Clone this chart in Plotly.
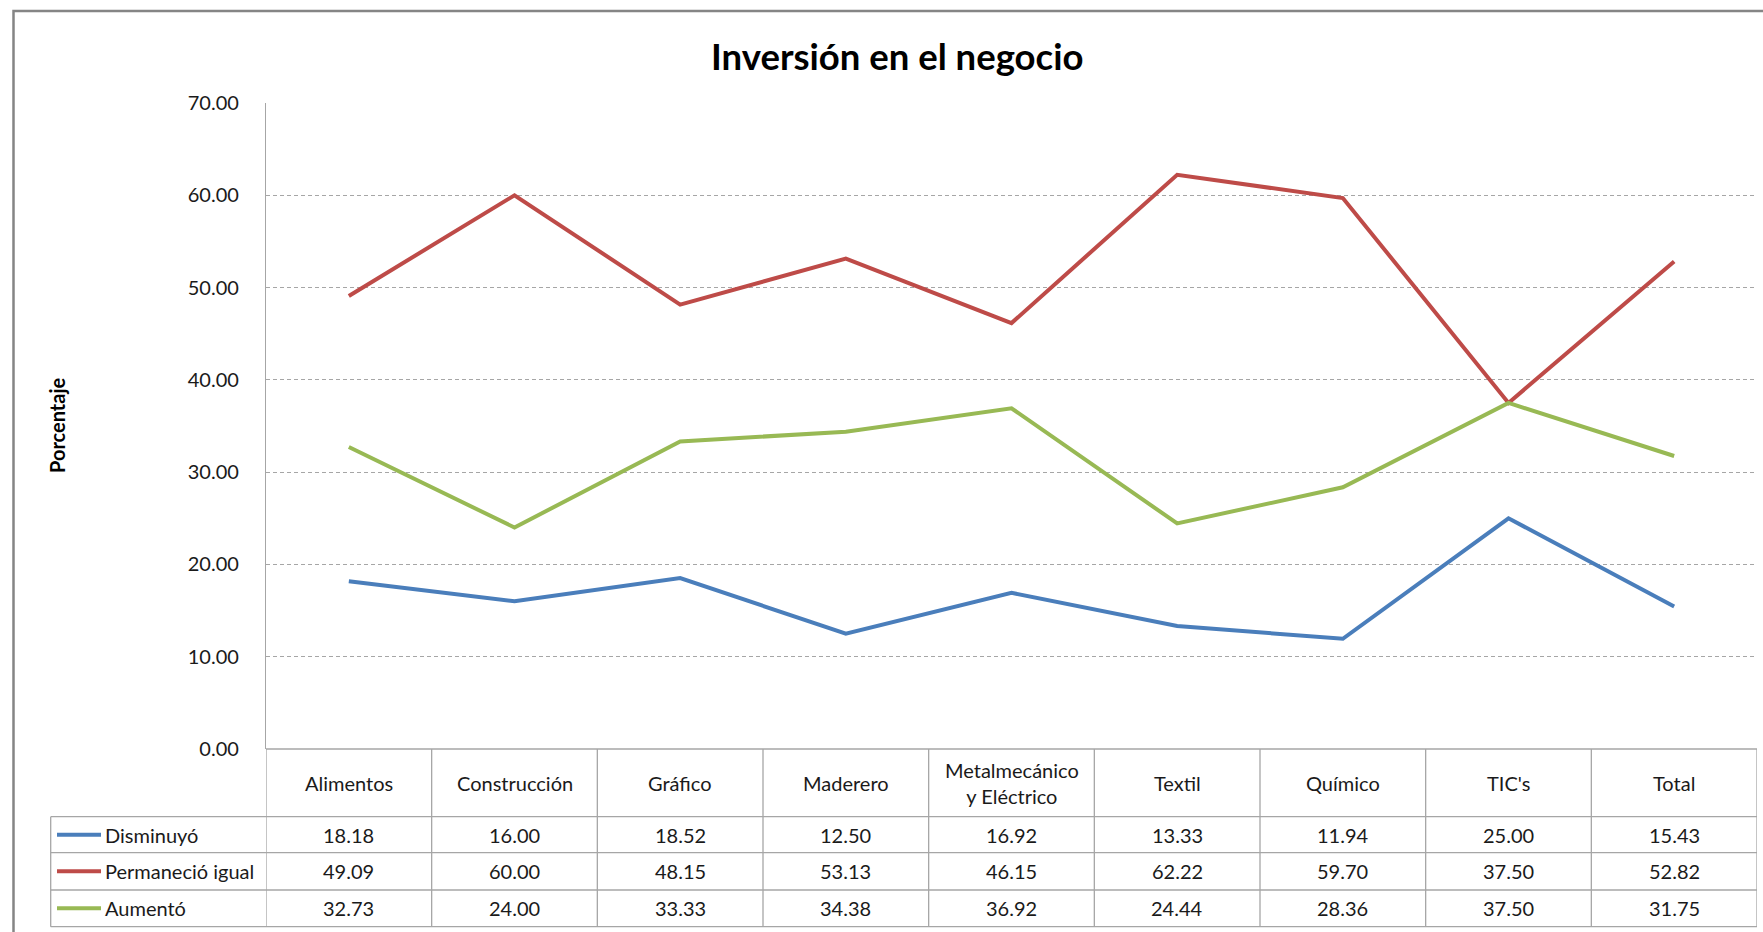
import plotly.graph_objects as go

categories = ["Alimentos", "Construcción", "Gráfico", "Maderero", "Metalmecánico<br>y Eléctrico",
              "Textil", "Químico", "TIC's", "Total"]
series_names = ["Disminuyó", "Permaneció igual", "Aumentó"]
disminuyo = [18.18, 16.00, 18.52, 12.50, 16.92, 13.33, 11.94, 25.00, 15.43]
permanecio = [49.09, 60.00, 48.15, 53.13, 46.15, 62.22, 59.70, 37.50, 52.82]
aumento = [32.73, 24.00, 33.33, 34.38, 36.92, 24.44, 28.36, 37.50, 31.75]
y_ticks = [0, 10, 20, 30, 40, 50, 60, 70]

series = [disminuyo, permanecio, aumento]
colors = ["#4A7EBB", "#BE4B48", "#98B954"]

W, H = 1763, 932
L, R, T, B = 266, 6, 103, 183
PW, PH = W - L - R, H - T - B
FONT = "Lato"
GRID = "#A6A6A6"
TXT = "#1a1a1a"
FS = 20


def px(X):
    return (X - L) / PW


def py(Y):
    return (H - B - Y) / PH


xs = list(range(len(categories)))
fig = go.Figure()
for name, vals, col in zip(series_names, series, colors):
    fig.add_trace(go.Scatter(x=xs, y=vals, mode="lines", name=name,
                             line=dict(color=col, width=4), showlegend=False))

shapes = []
annotations = []

# table geometry (pixels)
y_top = H - B
y_head = 816.7
row_lines = [y_head, 852.7, 890.0, 926.7]
leg_left = 50.7

# horizontal lines
shapes.append(dict(type="line", xref="paper", yref="paper", x0=0, x1=1, y0=py(y_top), y1=py(y_top),
                   line=dict(color=GRID, width=1.3)))
for yl in row_lines:
    shapes.append(dict(type="line", xref="paper", yref="paper", x0=px(leg_left), x1=1, y0=py(yl), y1=py(yl),
                       line=dict(color=GRID, width=1.3)))
# vertical lines
for i in range(len(categories) + 1):
    shapes.append(dict(type="line", xref="x", yref="paper", x0=i - 0.5, x1=i - 0.5,
                       y0=py(y_top), y1=py(row_lines[-1]), line=dict(color=GRID, width=1.3)))
shapes.append(dict(type="line", xref="paper", yref="paper", x0=px(leg_left), x1=px(leg_left),
                   y0=py(y_head), y1=py(row_lines[-1]), line=dict(color=GRID, width=1.3)))
# outer chart border
shapes.append(dict(type="rect", xref="paper", yref="paper", x0=px(13.5), x1=px(1790), y0=py(960), y1=py(11),
                   line=dict(color="#858585", width=2.5)))

# header texts
for i, c in enumerate(categories):
    annotations.append(dict(x=i, xref="x", y=py((y_top + y_head) / 2), yref="paper", text=c,
                            showarrow=False, font=dict(family=FONT, size=FS, color=TXT),
                            xanchor="center", yanchor="middle"))
# row texts
for r, (name, vals, col) in enumerate(zip(series_names, series, colors)):
    yc = (row_lines[r] + row_lines[r + 1]) / 2
    shapes.append(dict(type="line", xref="paper", yref="paper", x0=px(57), x1=px(101), y0=py(yc), y1=py(yc),
                       line=dict(color=col, width=4)))
    annotations.append(dict(x=px(103), xref="paper", y=py(yc), yref="paper", text=name, showarrow=False,
                            font=dict(family=FONT, size=FS, color=TXT), xanchor="left", yanchor="middle"))
    for i, v in enumerate(vals):
        annotations.append(dict(x=i, xref="x", y=py(yc), yref="paper", text=f"{v:.2f}", showarrow=False,
                                font=dict(family=FONT, size=FS, color=TXT),
                                xanchor="center", yanchor="middle"))

# title
annotations.append(dict(x=px(897), xref="paper", y=py(56), yref="paper", text="<b>Inversión en el negocio</b>",
                        showarrow=False, font=dict(family=FONT, size=36.5, color="#000000"),
                        xanchor="center", yanchor="middle"))
# y axis title
annotations.append(dict(x=px(57), xref="paper", y=py(425), yref="paper", text="<b>Porcentaje</b>",
                        showarrow=False, textangle=-90, font=dict(family=FONT, size=20, color="#000000"),
                        xanchor="center", yanchor="middle"))

fig.update_layout(
    width=W, height=H,
    margin=dict(l=L, r=R, t=T, b=B),
    paper_bgcolor="white", plot_bgcolor="white",
    shapes=shapes, annotations=annotations,
    xaxis=dict(range=[-0.5, len(categories) - 0.5], showticklabels=False, showgrid=False,
               zeroline=False, showline=False, fixedrange=True),
    yaxis=dict(range=[0, 70], tickvals=y_ticks, tickformat=".2f", showgrid=True, gridcolor=GRID,
               griddash="4px,3px", gridwidth=1.2, zeroline=False, showline=True, linecolor=GRID, linewidth=1.3,
               ticks="", ticklabelstandoff=22, tickfont=dict(family=FONT, size=FS, color=TXT),
               fixedrange=True),
)

fig.write_html("out.html", config={"displayModeBar": False})

# remove default page margin so the figure sits at the window's top-left corner
with open("out.html", "r", encoding="utf-8") as f:
    html = f.read()
html = html.replace("<body>", '<body style="margin:0;padding:0;">', 1)
with open("out.html", "w", encoding="utf-8") as f:
    f.write(html)
